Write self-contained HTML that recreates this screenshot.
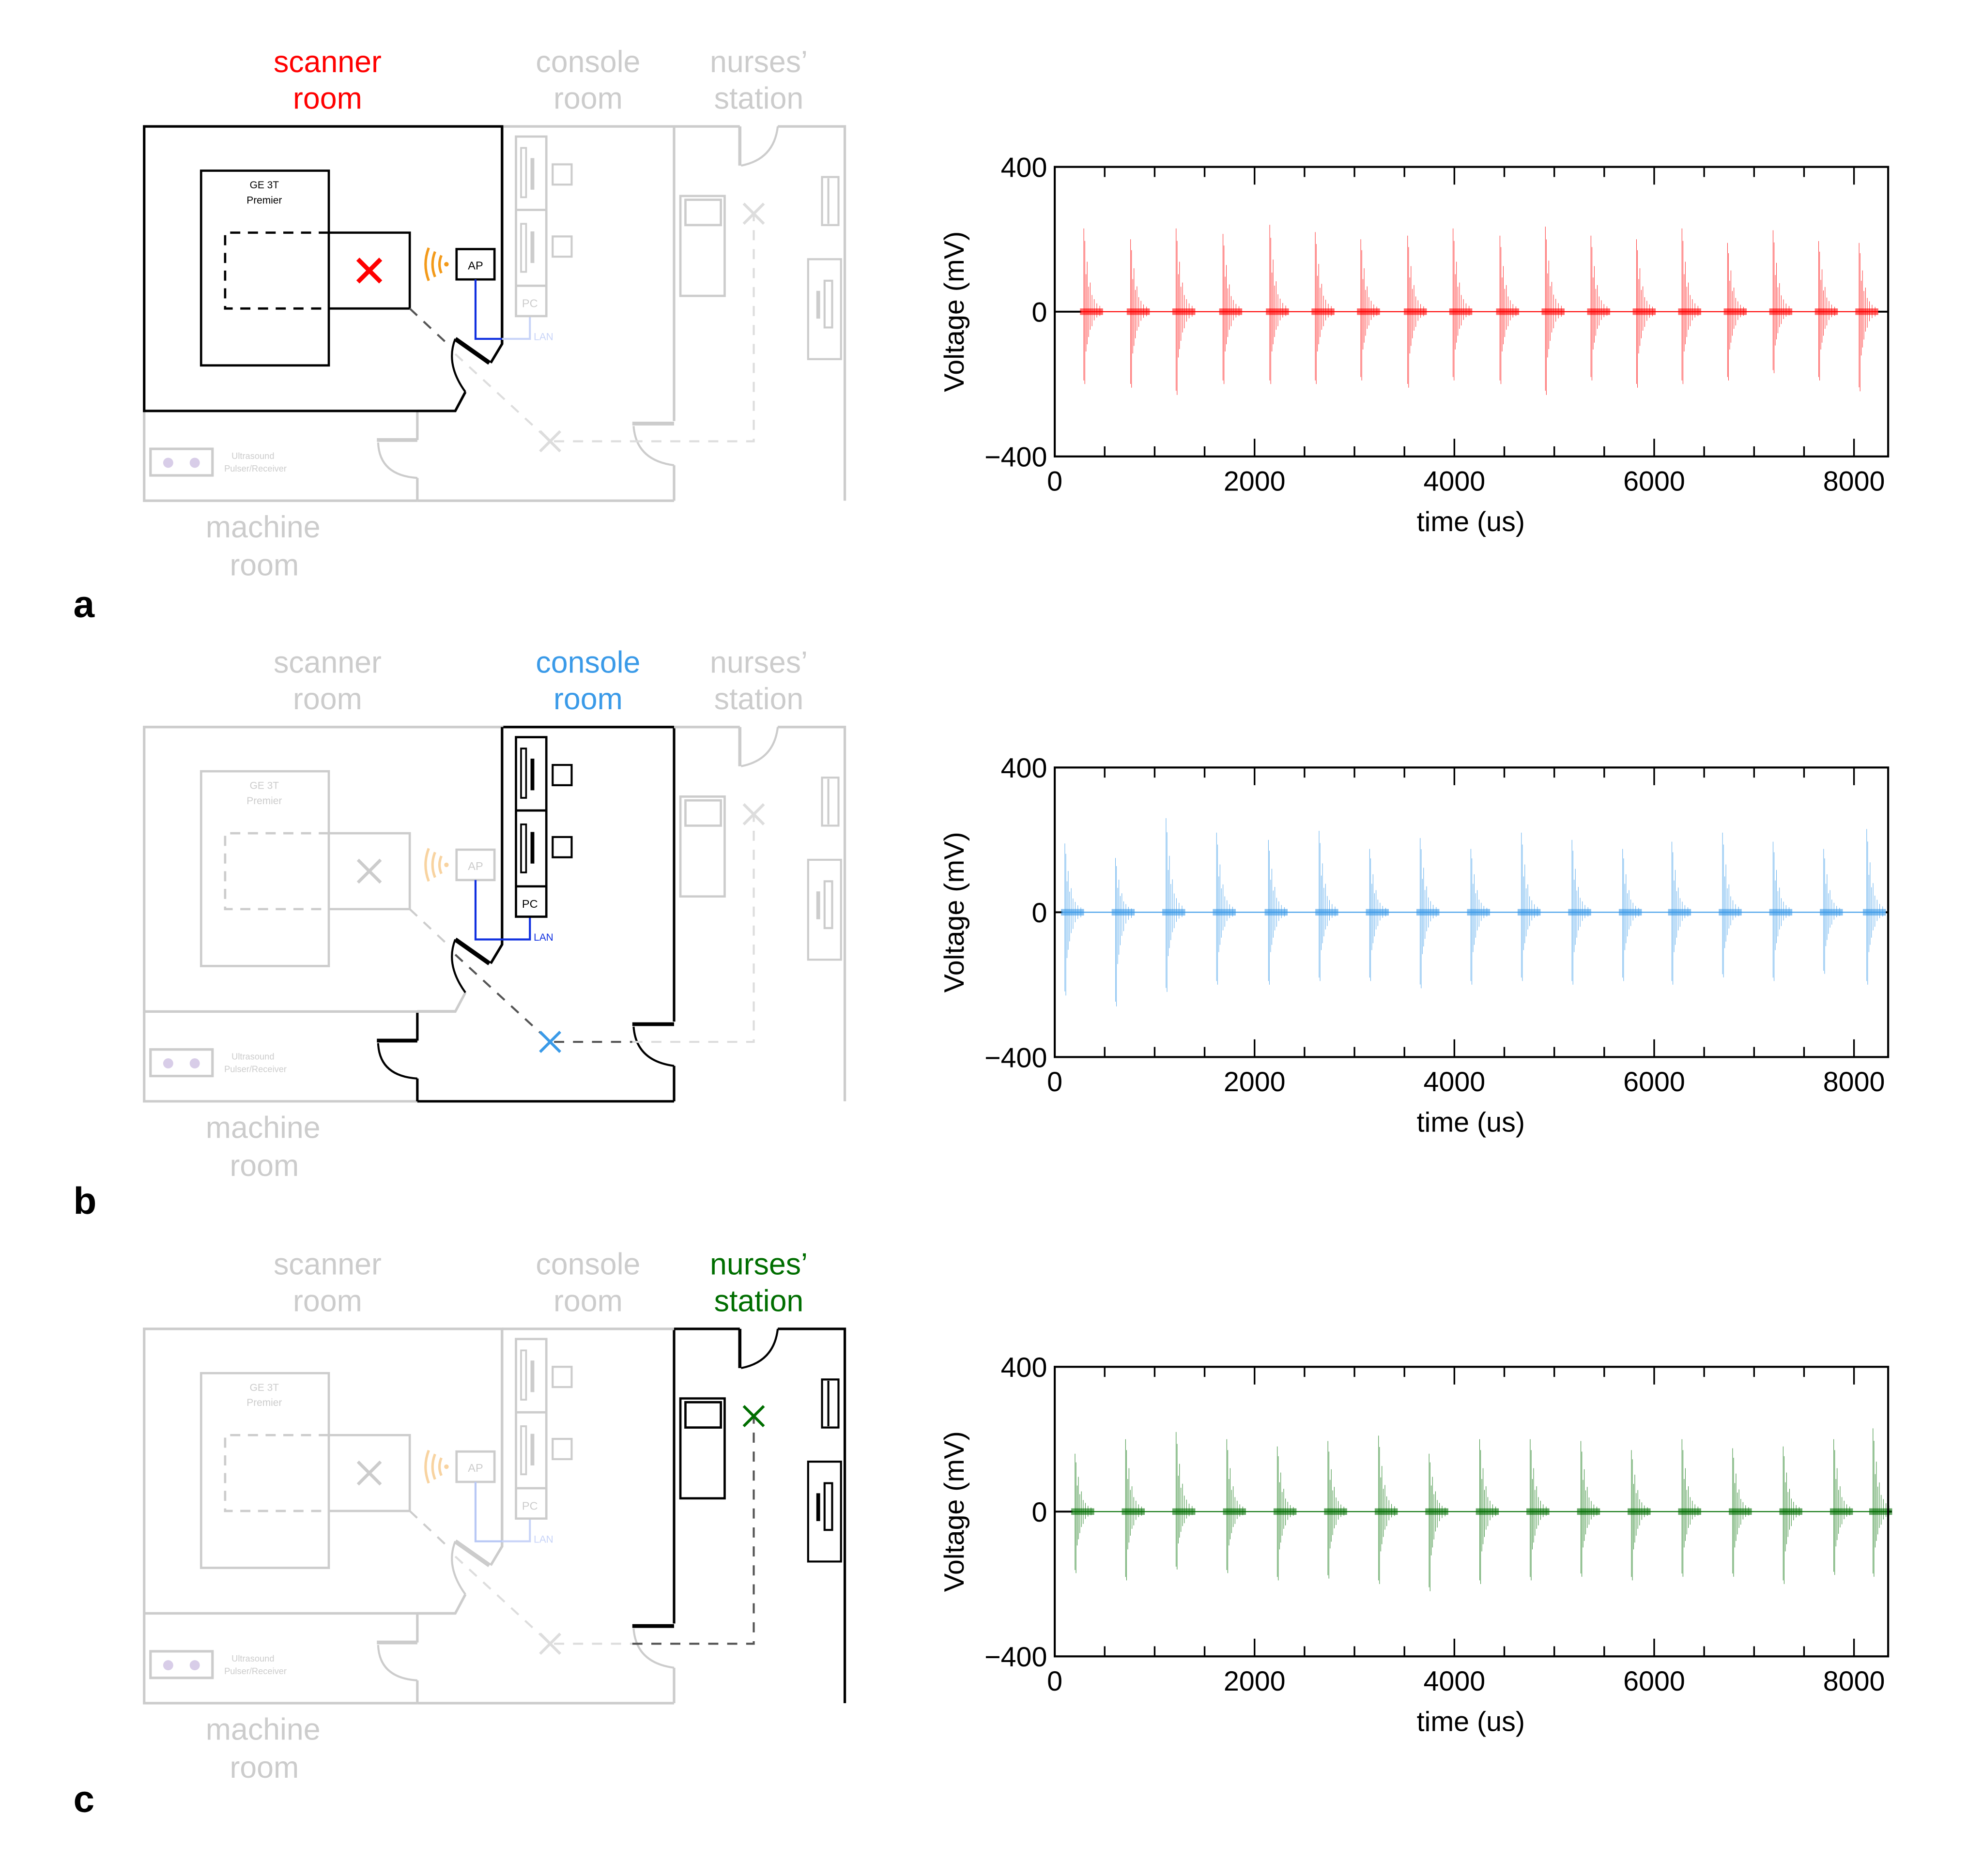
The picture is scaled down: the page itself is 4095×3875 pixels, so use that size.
<!DOCTYPE html>
<html><head><meta charset="utf-8"><style>
html,body{margin:0;padding:0;background:#fff}
svg{display:block}
text{font-family:"Liberation Sans",sans-serif}
</style></head><body>
<svg id="fig" xmlns="http://www.w3.org/2000/svg" width="4095" height="3875" viewBox="0 0 1568 1483.7" preserveAspectRatio="none">
<rect x="0" y="0" width="1568" height="1484" fill="#fff"/>
<g id="plans"></g>
<g id="charts"></g>
<g font-weight="bold" font-size="30">
<text x="58" y="488">a</text>
<text x="58" y="960">b</text>
<text x="58" y="1433">c</text>
</g>
</svg>
<script>
// ---- chart data ----
const xTicks = [0, 2000, 4000, 6000, 8000];
const yTicks = [-400, 0, 400];
const timesA = [291,759,1215,1684,2152,2608,3063,3532,3987,4456,4911,5367,5823,6278,6734,7190,7646,8051];
const posA = [230,200,230,215,240,220,200,210,230,210,235,210,200,230,190,225,195,190];
const negA = [-200,-210,-230,-200,-200,-200,-190,-210,-190,-200,-230,-190,-210,-200,-190,-170,-190,-220];
const timesB = [101,608,1114,1620,2139,2646,3152,3658,4165,4671,5177,5684,6177,6684,7190,7696,8127];
const posB = [190,150,260,220,200,225,175,205,175,220,200,175,195,220,195,175,230];
const negB = [-230,-260,-220,-200,-200,-190,-190,-210,-200,-190,-200,-190,-200,-180,-190,-170,-200];
const timesC = [203,709,1215,1722,2228,2734,3241,3747,4253,4759,5266,5772,6278,6785,7291,7797,8190];
const posC = [160,200,220,200,180,195,210,160,200,200,195,170,200,175,180,200,230];
const negC = [-170,-190,-160,-170,-190,-185,-200,-220,-200,-190,-180,-190,-180,-180,-200,-175,-180];

const NS = "http://www.w3.org/2000/svg";
function mk(parent, tag, attrs, txt) {
  const e = document.createElementNS(NS, tag);
  for (const k in attrs) e.setAttribute(k, attrs[k]);
  if (txt !== undefined) e.textContent = txt;
  parent.appendChild(e);
  return e;
}
const PX0 = 834, PX1 = 1493, XMAX = (1493 - 834) / 0.079;
function xs(t) { return PX0 + t * 0.079; }

function drawChart(dy, times, pos, neg, color, key) {
  const root = document.getElementById('charts');
  const g = mk(root, 'g', {});
  
  
  const top = 132 + dy, bot = 361 + dy;
  function ys(v) { return top + (400 - v) / 800 * (bot - top); }
  const base = mk(g, 'line', {x1: PX0, x2: PX1, y1: ys(0), y2: ys(0), stroke: color, 'stroke-width': 0.8});
  
  
  const lead = mk(g, 'line', {x1: PX0, x2: xs(times[0]) - 2, y1: ys(0), y2: ys(0), stroke: '#000', 'stroke-width': 1.5});
  
  
  const tail = mk(g, 'line', {x1: xs(times[times.length - 1]) + 15, x2: PX1, y1: ys(0), y2: ys(0), stroke: '#000', 'stroke-width': 1.5});
  
  
  const offs = [0, 10, 22, 34, 48, 64, 82, 104, 130, 160];
  const relP = [1, 0.85, 0.45, 0.6, 0.3, 0.35, 0.2, 0.15, 0.1, 0.07];
  const relN = [0.95, 1, 0.55, 0.45, 0.35, 0.25, 0.2, 0.12, 0.08, 0.06];
  for (let i = 0; i < times.length; i++) {
    let d = '';
    for (let j = 0; j < offs.length; j++) {
      const x = xs(times[i] + offs[j]);
      d += 'M' + x.toFixed(2) + ',' + ys(pos[i] * relP[j]).toFixed(2) + 'V' + ys(neg[i] * relN[j]).toFixed(2);
    }
    const b = mk(g, 'path', {d: d, stroke: color, 'stroke-width': 0.4, fill: 'none', opacity: 0.8});
    
    
    const core = mk(g, 'rect', {x: xs(times[i]) - 3, y: ys(9), width: xs(times[i] + 230) - xs(times[i]), height: ys(-9) - ys(9), fill: color, opacity: 0.6});
    
    
  }
  const fr = mk(g, 'rect', {x: PX0, y: top, width: PX1 - PX0, height: bot - top, fill: 'none', stroke: '#000', 'stroke-width': 1.6});
  
  
  for (let t = 500; t < XMAX; t += 500) {
    const L = (t % 2000 === 0) ? 14 : 8;
    const a = mk(g, 'line', {x1: xs(t), x2: xs(t), y1: top, y2: top + L, stroke: '#000', 'stroke-width': 1.3});
    
    
    const b = mk(g, 'line', {x1: xs(t), x2: xs(t), y1: bot, y2: bot - L, stroke: '#000', 'stroke-width': 1.3});
    
    
  }
  for (const t of xTicks) {
    const l = mk(g, 'text', {x: xs(t), y: bot + 27, 'font-size': 22, 'text-anchor': 'middle'}, String(t));
    
    
  }
  for (const v of yTicks) {
    const l = mk(g, 'text', {x: PX0 - 6, y: ys(v) + 8, 'font-size': 22, 'text-anchor': 'end'}, v < 0 ? '\u2212' + Math.abs(v) : String(v));
    
    
  }
  const xt = mk(g, 'text', {x: 1163, y: bot + 59, 'font-size': 22, 'text-anchor': 'middle'}, 'time (us)');
  
  
  const yt = mk(g, 'text', {x: 0, y: 0, 'font-size': 22, 'text-anchor': 'middle', transform: 'translate(762,' + ys(0) + ') rotate(-90)'}, 'Voltage (mV)');
  
  
}
drawChart(0, timesA, posA, negA, '#ff0000', 'a');
drawChart(475, timesB, posB, negB, '#3a9ae8', 'b');
drawChart(949, timesC, posC, negC, '#006e00', 'c');

// ---- floor plans ----
const GR = '#cccccc';
function drawPlan(dy, hl) {
  const root = document.getElementById('plans');
  const g = mk(root, 'g', {transform: 'translate(0,' + dy + ')'});
  
  
  function c(room) { return room === hl ? '#000' : GR; }
  function P(d, col, w, name, extra) {
    const attrs = {d: d, stroke: col, 'stroke-width': w, fill: 'none'};
    if (extra) for (const k in extra) attrs[k] = extra[k];
    const e = mk(g, 'path', attrs);
    
    
    return e;
  }
  function T(x, y, s, col, txt, name, anchor) {
    const e = mk(g, 'text', {x: x, y: y, 'font-size': s, fill: col, 'text-anchor': anchor || 'middle'}, txt);
    
    
    return e;
  }
  P('M114,325 V396 H330', GR, 2, 'machine-room-wall');
  P('M330,396 H533', hl === 'b' ? '#000' : GR, 2, 'machine-console-bottom-wall');
  P('M330,325 V348 M330,378 V396', hl === 'b' ? '#000' : GR, 2, 'machine-room-door-wall');
  P('M298,348 H330', hl === 'b' ? '#000' : GR, 3, 'machine-room-door-leaf');
  P('M299,350 Q300,376 330,378', hl === 'b' ? '#000' : GR, 1.6, 'machine-room-door-arc');
  P('M330,325 H360', hl === 'b' ? '#000' : GR, 2, 'console-lower-wall');
  P('M119,355 H168 V376 H119 Z', GR, 2, 'ultrasound-box');
  mk(g, 'circle', {cx: 133, cy: 366, r: 4, fill: '#d8cde8'});
  mk(g, 'circle', {cx: 154, cy: 366, r: 4, fill: '#d8cde8'});
  T(200, 363, 7, GR, 'Ultrasound', 'ultrasound-label');
  T(202, 373, 7, GR, 'Pulser/Receiver', 'ultrasound-label');
  P('M533,100 V333', (hl === 'b' || hl === 'c') ? '#000' : GR, 2, 'nurses-left-wall');
  P('M500,335 H533', (hl === 'b' || hl === 'c') ? '#000' : GR, 3, 'nurses-door-leaf');
  P('M501,337 Q503,364 533,368', (hl === 'b') ? '#000' : GR, 1.6, 'nurses-door-arc');
  P('M533,368 V396', (hl === 'b') ? '#000' : GR, 2, 'console-right-lower-wall');
  P('M397,100 H533', hl === 'b' ? '#000' : GR, 2, 'console-top-wall');
  P('M533,100 H585 M615,100 H668 V396', c('c'), 2, 'nurses-outer-wall');
  P('M585,100 V131', c('c'), 2.5, 'nurses-top-door-leaf');
  P('M586,131 Q612,126 615,100', c('c'), 1.6, 'nurses-top-door-arc');
  P('M397,272 V100 H114 V325 H360 L368,310', c('a'), 2, 'scanner-room-wall');
  P('M397,100 V272 L388,287', hl === 'b' ? '#000' : c('a'), 2, 'scanner-console-wall');
  P('M360,268 L387,287', (hl === 'a' || hl === 'b') ? '#000' : GR, 3.5, 'scanner-door-leaf');
  P('M368,310 Q352,288 360,268', (hl === 'a' || hl === 'b') ? '#000' : GR, 1.6, 'scanner-door-arc');
  P('M159,135 H260 V289 H159 Z', c('a'), 1.8, 'mri-scanner-box');
  T(209, 149, 8, c('a'), 'GE 3T', 'mri-label');
  T(209, 161, 8, c('a'), 'Premier', 'mri-label');
  P('M260,184 H178 V244 H260', c('a'), 1.8, 'mri-bore-dashed', {'stroke-dasharray': '8,6'});
  P('M260,184 H324 V244 H260', c('a'), 1.8, 'mri-table');
  P('M283,205 L301,223 M301,205 L283,223', hl === 'a' ? '#ff0000' : GR, hl === 'a' ? 3.5 : 2.5, 'measurement-location-scanner');
  const wc = hl === 'a' ? '#f39a1a' : '#f8d3a0';
  P('M349,202 Q346,209 349,216 M344,199 Q340,209 344,219 M339,196 Q334,209 339,222', wc, 2, 'wifi-icon');
  mk(g, 'circle', {cx: 353, cy: 209, r: 1.8, fill: wc});
  P('M361,197 H391 V221 H361 Z', c('a'), 1.8, 'access-point-box');
  T(376, 213, 9, c('a'), 'AP', 'access-point-label');
  P('M376,221 V268 H397', hl === 'c' ? '#b8c8f5' : '#1030e0', 1.6, 'ap-cable');
  P('M397,268 H419 V250', hl === 'b' ? '#1030e0' : '#c8d4f8', 1.6, 'lan-cable');
  T(422, 269, 8, hl === 'b' ? '#1030e0' : '#c8d4f8', 'LAN', 'lan-label', 'start');
  const cc = c('b');
  P('M408,108 H432 V250 H408 Z M408,166 H432 M408,226 H432', cc, 1.8, 'console-rack');
  P('M412,117 H416 V156 H412 Z M412,177 H416 V215 H412 Z', cc, 1.4, 'console-monitor');
  P('M421,125 V150 M421,183 V208', cc, 3, 'console-monitor-stand');
  P('M437,130 H452 V146 H437 Z M437,187 H452 V203 H437 Z', cc, 1.6, 'console-chair');
  T(419, 243, 9, cc, 'PC', 'pc-label');
  const nc = c('c');
  P('M538,155 H573 V234 H538 Z M542,158 H570 V178 H542 Z', nc, 1.8, 'nurses-bed');
  P('M650,140 H663 V178 H650 Z M655,141 V177', nc, 1.6, 'nurses-cabinet');
  P('M639,205 H665 V284 H639 Z M652,222 H658 V259 H652 Z', nc, 1.6, 'nurses-desk');
  P('M647,230 V252', nc, 3, 'nurses-monitor');
  const dash = {'stroke-dasharray': '8,7'};
  P('M324,244 L356,274', hl === 'a' ? '#555' : GR, 1.6, 'path-scanner', dash);
  P('M360,280 L435,349 H500', hl === 'b' ? '#555' : '#dddddd', 1.6, 'path-console', dash);
  P('M500,349 H596 V170', hl === 'c' ? '#555' : '#dddddd', 1.6, 'path-nurses', dash);
  P('M427,341 L443,357 M443,341 L427,357', hl === 'b' ? '#3a9ae8' : '#dddddd', 2.2, 'measurement-location-console');
  P('M588,161 L604,177 M604,161 L588,177', hl === 'c' ? '#006e00' : '#dddddd', 2.2, 'measurement-location-nurses');
  T(259, 57, 24, hl === 'a' ? '#ff0000' : GR, 'scanner', 'room-label-scanner');
  T(259, 86, 24, hl === 'a' ? '#ff0000' : GR, 'room', 'room-label-scanner');
  T(465, 57, 24, hl === 'b' ? '#3a9ae8' : GR, 'console', 'room-label-console');
  T(465, 86, 24, hl === 'b' ? '#3a9ae8' : GR, 'room', 'room-label-console');
  T(600, 57, 24, hl === 'c' ? '#006e00' : GR, 'nurses\u2019', 'room-label-nurses');
  T(600, 86, 24, hl === 'c' ? '#006e00' : GR, 'station', 'room-label-nurses');
  T(208, 425, 24, GR, 'machine', 'room-label-machine');
  T(209, 455, 24, GR, 'room', 'room-label-machine');
}
drawPlan(0, 'a');
drawPlan(475, 'b');
drawPlan(951, 'c');
</script>
</body></html>
